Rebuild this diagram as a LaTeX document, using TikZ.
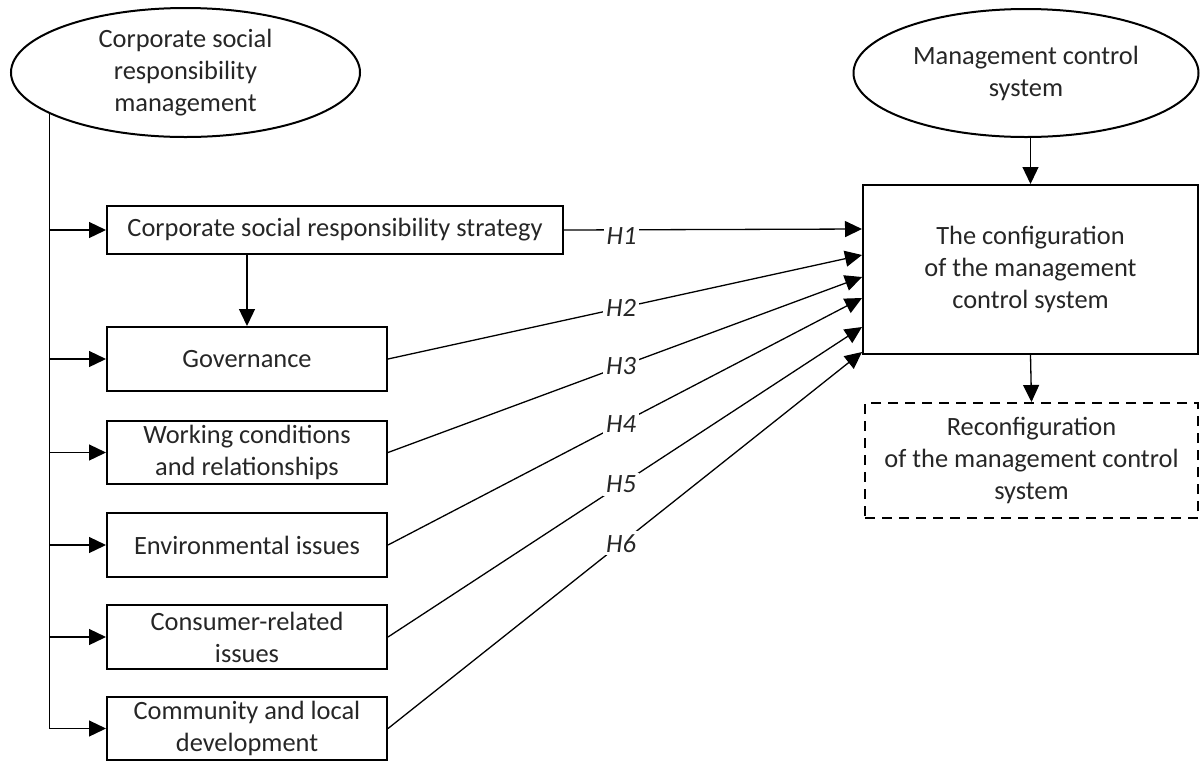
\documentclass[tikz,border=0pt]{standalone}
\usepackage{fontspec}
\setmainfont{Carlito}
\usetikzlibrary{shapes.geometric,arrows.meta,calc}
\begin{document}
\begin{tikzpicture}[x=0.5pt,y=-0.5pt,
  every node/.style={font=\fontsize{13.2}{16}\selectfont, text=black!85, align=center},
  box/.style={draw, line width=1pt, inner sep=0pt, minimum width=140pt},
  oval/.style={draw, ellipse, line width=1pt, inner sep=0pt},
  conn/.style={line width=0.65pt, -{Triangle[length=8.5pt,width=8pt]}},
  hlab/.style={fill=white, inner sep=1.5pt, font=\fontsize{13.2}{16}\selectfont\itshape}]
\useasboundingbox (0,0) rectangle (1200,762);

% ellipses
\node[oval, minimum width=174.5pt, minimum height=64.5pt] (csr) at (185.5,72.5)
  {Corporate social\\responsibility\\management};
\node[oval, minimum width=172.5pt, minimum height=64pt] (mcs) at (1026,73)
  {Management control\\system};

% left boxes
\node[box, minimum width=228pt, minimum height=24pt] (strat) at (335,230)
  {Corporate social responsibility strategy};
\node[box, minimum height=32pt] (gov) at (247,359) {Governance};
\node[box, minimum height=31.5pt] (work) at (247,452.5) {Working conditions\\and relationships};
\node[box, minimum height=32pt] (env) at (247,545) {Environmental issues};
\node[box, minimum height=32pt] (cons) at (247,637) {Consumer-related\\issues};
\node[box, minimum height=31.5pt] (comm) at (247,728.5) {Community and local\\development};

% right boxes
\node[box, minimum width=167.5pt, minimum height=84.5pt] (config) at (1030.5,269.5)
  {The configuration\\of the management\\control system};
\node[box, dash pattern=on 5pt off 3.5pt, minimum width=166.5pt, minimum height=57.5pt] (reconf) at (1031.5,460.5)
  {Reconfiguration\\of the management control\\system};

% spine
\coordinate (top) at (csr.197.6);
\draw[line width=0.65pt] (top) -- (top |- comm.west);
\draw[conn] (top |- strat.west) -- (strat.west);
\draw[conn] (top |- gov.west) -- (gov.west);
\draw[conn] (top |- work.west) -- (work.west);
\draw[conn] (top |- env.west) -- (env.west);
\draw[conn] (top |- cons.west) -- (cons.west);
\draw[conn] (top |- comm.west) -- (comm.west);

% strategy to governance
\draw[conn] (strat.south -| gov.north) -- (gov.north);

% mcs and config
\draw[conn] (mcs.south -| config.north) -- (config.north);
\draw[conn] (config.south) -- (reconf.north);

% hypotheses
\draw[conn] (strat.east) -- node[hlab, pos=0.193, yshift=-3pt] {H1} ($(config.west)+(0,-40.5)$);
\draw[conn] (gov.east) -- node[hlab, pos=0.4916] {H2} ($(config.west)+(0,-14.5)$);
\draw[conn] (work.east) -- node[hlab, pos=0.4916] {H3} ($(config.west)+(0,7.5)$);
\draw[conn] (env.east) -- node[hlab, pos=0.4916] {H4} ($(config.west)+(0,28.5)$);
\draw[conn] (cons.east) -- node[hlab, pos=0.4916] {H5} ($(config.west)+(0,57.5)$);
\draw[conn] (comm.east) -- node[hlab, pos=0.4916] {H6} ($(config.west)+(0,82.5)$);
\end{tikzpicture}
\end{document}
